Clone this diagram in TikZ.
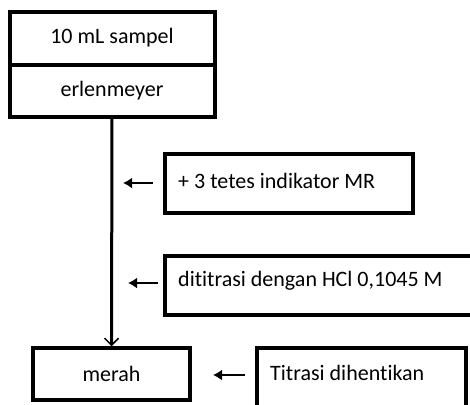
\documentclass[tikz,border=0pt]{standalone}
\usepackage{fontspec}
\setmainfont[Ligatures=NoCommon]{Carlito}
\usetikzlibrary{arrows.meta}
\begin{document}
\begin{tikzpicture}[x=1pt,y=-1pt,
  box/.style={draw,line width=3.5pt},
  lbl/.style={font=\fontsize{22}{26}\selectfont,inner sep=0pt},
  sidearrow/.style={line width=2pt,-{Latex[length=9pt,width=11pt]}},
  flow/.style={line width=3pt,-{Straight Barb[length=7pt,width=14pt,line width=1.5pt]}}]
\useasboundingbox (0,0) rectangle (470,404);
\clip (0,0) rectangle (470,404);
% top box with two sections
\draw[box] (10,12) rectangle (215,117);
\draw[box] (10,65) -- (215,65);
\node[lbl] (sampel) at (112,38) {10 mL sampel};
\node[lbl] (erlen) at (112,91) {erlenmeyer};
\coordinate (topbot) at (112,117);
% side boxes
\draw[box] (165,154) rectangle (413,213);
\node[lbl,anchor=west] (mr) at (178,181) {+ 3 tetes indikator MR};
\coordinate (mrin) at (153,183);
\coordinate (mrout) at (123,183);
\draw[box] (165,256) rectangle (472,315);
\node[lbl,anchor=west] (hcl) at (178,281) {dititrasi dengan HCl 0,1045 M};
\coordinate (hclin) at (158,283);
\coordinate (hclout) at (128,283);
% bottom row
\node[box,minimum width=157pt,minimum height=52pt,inner sep=0pt] (merah) at (111.5,374) {};
\node[lbl] at (merah) {merah};
\draw[box] (257,348) rectangle (466,420);
\node[lbl,anchor=west] (stop) at (270,373) {Titrasi dihentikan};
\coordinate (stopin) at (245,375);
\coordinate (stopout) at (213,375);
% connectors
\draw[flow] (topbot) -- (merah.north);
\draw[sidearrow] (mrin) -- (mrout);
\draw[sidearrow] (hclin) -- (hclout);
\draw[sidearrow] (stopin) -- (stopout);
\end{tikzpicture}
\end{document}
